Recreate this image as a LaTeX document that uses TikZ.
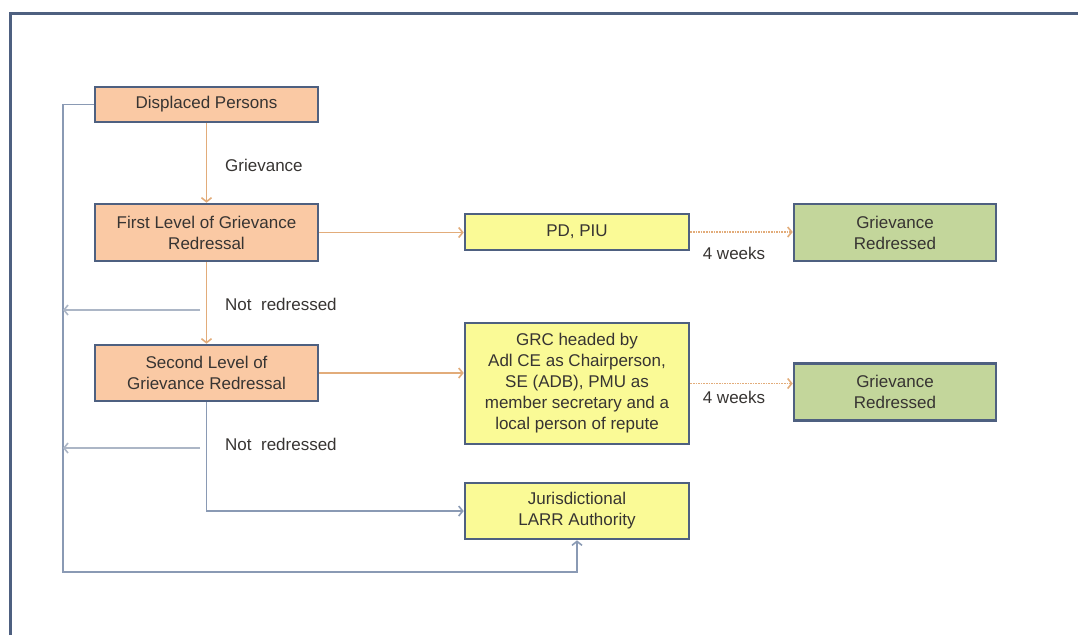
\documentclass[tikz,border=0pt]{standalone}
\usepackage{fontspec}
\setmainfont{Liberation Sans}
\usetikzlibrary{arrows.meta}
\definecolor{peach}{RGB}{250,201,164}
\definecolor{lemon}{RGB}{250,250,150}
\definecolor{olive}{RGB}{195,214,155}
\definecolor{edge}{RGB}{78,96,128}
\definecolor{tan}{RGB}{226,172,122}
\definecolor{slate}{RGB}{138,154,180}
\definecolor{mist}{RGB}{172,182,198}
\definecolor{ink}{RGB}{55,52,50}
\tikzset{every node/.style={font=\fontsize{17}{21}\selectfont, text=ink, inner sep=0pt},
  lvlbox/.style={draw=edge, line width=2.6pt, fill=peach, minimum width=223pt, align=center},
  actbox/.style={draw=edge, line width=2.6pt, fill=lemon, minimum width=224pt, align=center},
  donebox/.style={draw=edge, line width=2.6pt, fill=olive, minimum width=202pt, minimum height=57pt, align=center},
  orline/.style={tan, line width=1.6pt},
  blline/.style={slate, line width=1.6pt},
  grline/.style={mist, line width=1.6pt},
  dotline/.style={tan, line width=1.6pt, densely dotted},
  lbl/.style={anchor=west}}

\begin{document}
\begin{tikzpicture}[x=1pt, y=-1pt, >={Straight Barb[length=4pt,width=10pt]}]
  \useasboundingbox (0,0) rectangle (1078,635);
  % frame
  \draw[edge, line width=3pt] (10,635) -- (10,13) -- (1078,13);

  % levels
  \node[lvlbox, minimum height=35pt] (dp) at (206.5,104.5) {Displaced Persons};
  \node[lvlbox, minimum height=57pt] (fl) at (206.5,232.5) {First Level of Grievance\\Redressal};
  \node[lvlbox, minimum height=56pt] (sl) at (206.5,373) {Second Level of\\Grievance Redressal};

  % who redresses
  \node[actbox, minimum height=36pt] (pd) at (577,232) {PD, PIU};
  \node[actbox, minimum height=121pt] (grc) at (577,383.5) {GRC headed by\\Adl CE as Chairperson,\\SE (ADB), PMU as\\member secretary and a\\local person of repute};
  \node[actbox, minimum height=56pt] (jur) at (577,511) {Jurisdictional\\LARR Authority};

  \node[donebox] (g1) at (895,232.5) {Grievance\\Redressed};
  \node[donebox] (g2) at (895,392) {Grievance\\Redressed};

  % labels
  \node[lbl] (grv) at (225,165) {Grievance};
  \node[lbl] (nr1) at (225,304) {Not\ \ redressed};
  \node[lbl] (nr2) at (225,444) {Not\ \ redressed};
  \node (w1) at (734,253) {4 weeks};
  \node (w2) at (734,397) {4 weeks};

  \coordinate (lft) at (63,572);
  \coordinate (r1) at (200,310);
  \coordinate (l1) at (63,310);
  \coordinate (r2) at (200,448);
  \coordinate (l2) at (63,448);

  \draw[orline,->] (dp) -- (fl);
  \draw[orline,->] (fl) -- (sl);
  \draw[orline,->] (fl.east) -- (fl.east -| pd.west);
  \draw[orline,->] (sl.east) -- (sl.east -| grc.west);
  \draw[dotline,->] (pd.east) -- (pd.east -| g1.west);
  \draw[dotline,->] (grc.east) -- (grc.east -| g2.west);
  \draw[blline,->] (sl.south) |- (jur.west);
  \draw[blline,->] (dp.west) -| (lft) -| (jur.south);
  \draw[grline,->] (r1) -- (l1);
  \draw[grline,->] (r2) -- (l2);
\end{tikzpicture}
\end{document}
